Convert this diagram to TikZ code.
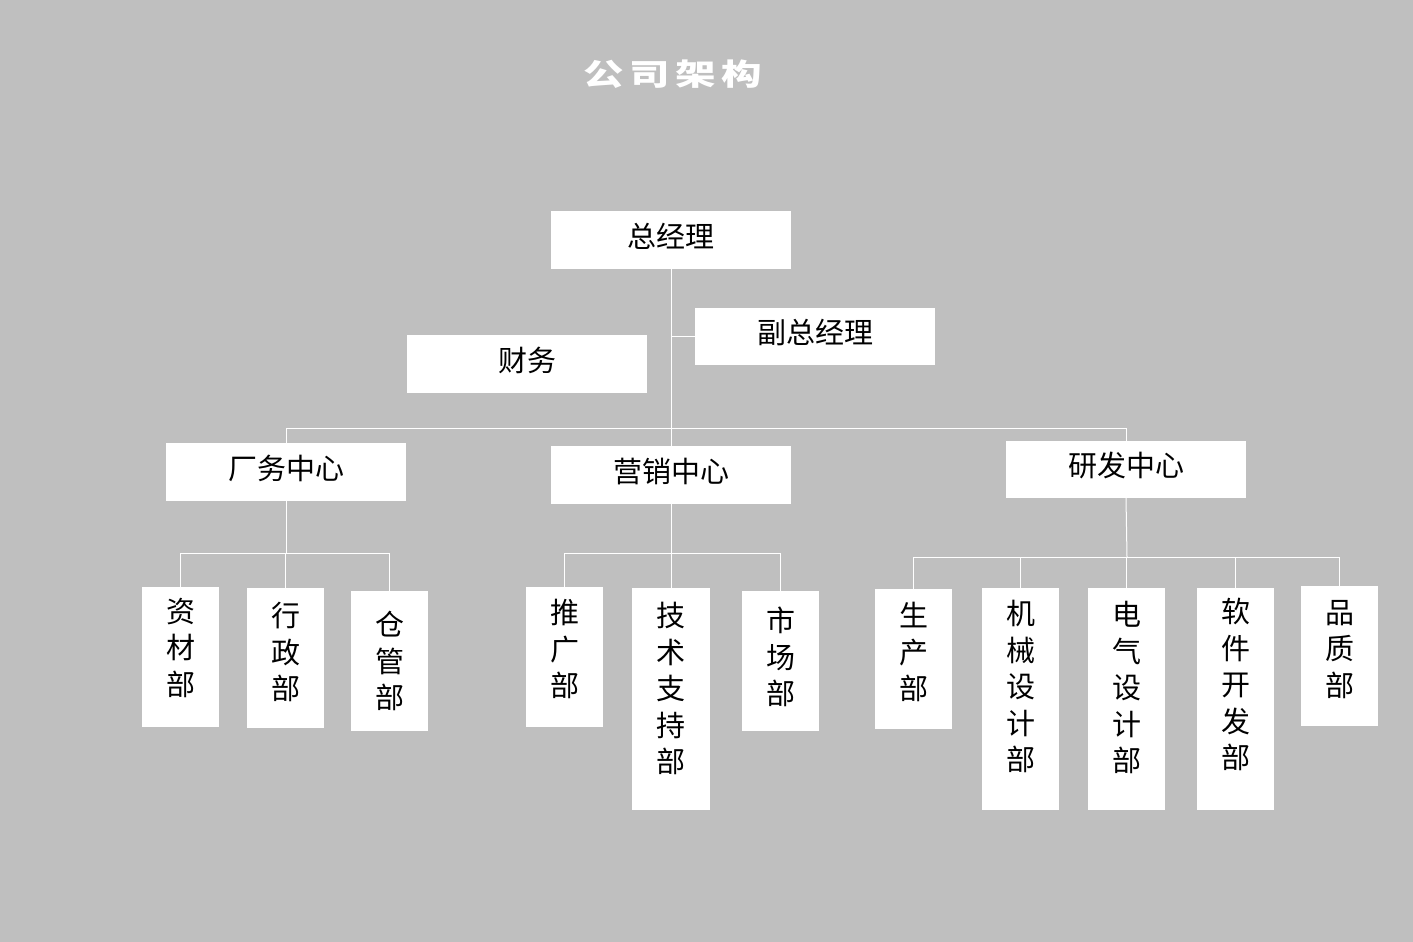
\documentclass[tikz,border=0pt]{standalone}
\usepackage{fontspec}
\newfontfamily\cjk{Noto Sans CJK SC}
\usetikzlibrary{calc}
\definecolor{bggray}{HTML}{BFBFBF}
\tikzset{
  box/.style={fill=white, draw=none, inner sep=0pt, minimum width=240pt, minimum height=58pt,
    text depth=10pt, font=\cjk\fontsize{29}{34}\selectfont, text=black},
  subbox/.style={fill=white, draw=none, inner sep=0pt, minimum width=77pt, anchor=north},
  vtext/.style={anchor=north, inner sep=0pt, align=center, text=black,
    font=\cjk\fontsize{29}{36.5}\selectfont},
  conn/.style={draw=white, line width=1pt},
  title/.style={text=white, inner sep=0pt, font=\cjk\bfseries\fontsize{30}{36}\selectfont}
}
\begin{document}
\begin{tikzpicture}[x=1pt, y=-1pt]
\fill[bggray] (0,0) rectangle (1413,942);
\useasboundingbox (0,0) rectangle (1413,942);

% title
\node[title] (ttl) at (673,74) {\scalebox{1.35}[1]{公\hspace{4pt}司\hspace{4pt}架\hspace{4pt}构}};

% top level boxes
\node[box] (gm)  at (671,240)   {总经理};
\node[box, minimum height=57pt] (vgm) at (815,336.5) {副总经理};
\node[box] (fin) at (527,364)   {财务};
\node[box] (cw)  at (286,472)   {厂务中心};
\node[box] (yx)  at (671,475)   {营销中心};
\node[box, minimum height=57pt] (yf)  at (1126,469.5) {研发中心};

% sub boxes
\node[subbox, minimum height=140pt] (zc)   at (180.5,587) {};
\node[subbox, minimum height=140pt] (xz)   at (285.5,588) {};
\node[subbox, minimum height=140pt] (cg)   at (389.5,591) {};
\node[subbox, minimum height=140pt] (tg)   at (564.5,587) {};
\node[subbox, minimum height=222pt, minimum width=78pt] (js) at (671,588) {};
\node[subbox, minimum height=140pt] (sc)   at (780.5,591) {};
\node[subbox, minimum height=140pt] (scb)  at (913.5,589) {};
\node[subbox, minimum height=222pt] (jx)   at (1020.5,588) {};
\node[subbox, minimum height=222pt] (dq)   at (1126.5,588) {};
\node[subbox, minimum height=222pt] (rj)   at (1235.5,588) {};
\node[subbox, minimum height=140pt] (pz)   at (1339.5,586) {};

% vertical labels
\node[vtext] (zc-t)  at ($(zc.north)+(0,11)$)  {资\\材\\部};
\node[vtext] (xz-t)  at ($(xz.north)+(0,14)$)  {行\\政\\部};
\node[vtext] (cg-t)  at ($(cg.north)+(0,20)$)  {仓\\管\\部};
\node[vtext] (tg-t)  at ($(tg.north)+(0,12)$)  {推\\广\\部};
\node[vtext] (js-t)  at ($(js.north)+(0,14)$)  {技\\术\\支\\持\\部};
\node[vtext] (sc-t)  at ($(sc.north)+(0,16)$)  {市\\场\\部};
\node[vtext] (scb-t) at ($(scb.north)+(0,13)$) {生\\产\\部};
\node[vtext] (jx-t)  at ($(jx.north)+(0,12)$)  {机\\械\\设\\计\\部};
\node[vtext] (dq-t)  at ($(dq.north)+(0,13)$)  {电\\气\\设\\计\\部};
\node[vtext] (rj-t)  at ($(rj.north)+(0,10)$)  {软\\件\\开\\发\\部};
\node[vtext] (pz-t)  at ($(pz.north)+(0,14)$)  {品\\质\\部};

% connectors: top level
\coordinate (b1) at (286,428);
\draw[conn] (gm.south) -- (yx.north);
\draw[conn] (vgm.west) -- (vgm.west -| gm.south);
\draw[conn] ($(fin.east)+(0,12)$) -- ($(fin.east)+(0,12)$ -| gm.south);
\draw[conn] (cw.north) -- (b1) -| (yf.north);

% 厂务中心
\coordinate (b2) at (286,553);
\draw[conn] (cw.south) -- (b2);
\draw[conn] (zc.north) -- (zc.north |- b2) -| (cg.north);
\draw[conn] (xz.north) -- (xz.north |- b2);

% 营销中心
\coordinate (b3) at (671,553);
\draw[conn] (yx.south) -- (b3);
\draw[conn] (tg.north) -- (tg.north |- b3) -| (sc.north);
\draw[conn] (js.north) -- (js.north |- b3);

% 研发中心
\coordinate (b4) at (1127,557);
\draw[conn] (yf.south) -- (b4);
\draw[conn] (scb.north) -- (scb.north |- b4) -| (pz.north);
\draw[conn] (jx.north) -- (jx.north |- b4);
\draw[conn] (dq.north) -- (dq.north |- b4);
\draw[conn] (rj.north) -- (rj.north |- b4);
\end{tikzpicture}
\end{document}
